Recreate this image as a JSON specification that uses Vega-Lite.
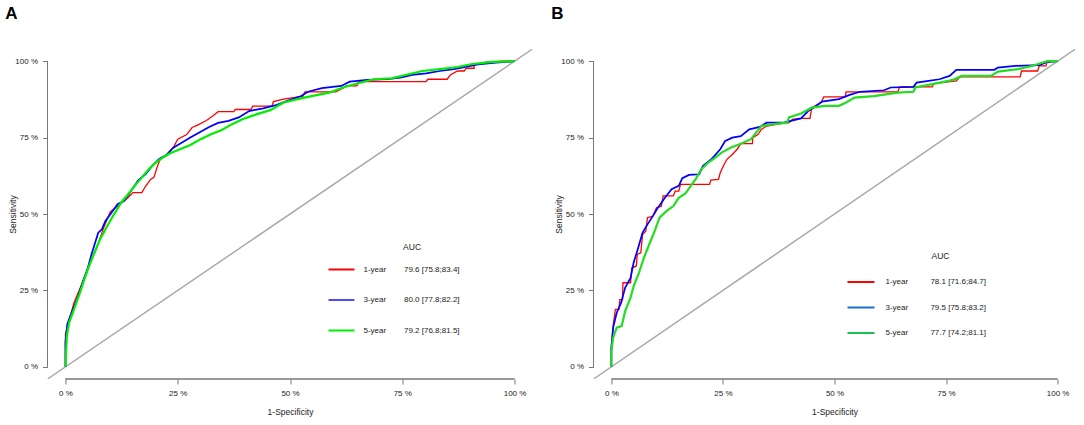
{
  "$schema": "https://vega.github.io/schema/vega-lite/v6.json",
  "background": "white",
  "padding": {"left": 4.5, "top": 5, "right": 2, "bottom": 2},
  "spacing": 18,
  "config": {
    "font": "Liberation Sans",
    "view": {"stroke": null},
    "axis": {
      "grid": false,
      "domain": false,
      "tickColor": "#777777",
      "tickSize": 5,
      "labelFontSize": 8,
      "labelColor": "#222222",
      "titleFontSize": 8.5,
      "titleFontWeight": "normal",
      "titleColor": "#222222"
    },
    "legend": {
      "orient": "none",
      "symbolType": "stroke",
      "symbolStrokeWidth": 2,
      "labelFontSize": 8,
      "labelColor": "#222222",
      "titleFontSize": 8.5,
      "titleFontWeight": "normal",
      "titleColor": "#222222"
    },
    "title": {"fontSize": 17, "fontWeight": "bold", "anchor": "start", "frame": "bounds", "offset": 26, "dx": -3}
  },
  "datasets": {
    "diag": [{"x": -4, "y": -4}, {"x": 104, "y": 104}],
    "keys": [
      {"series": "1-year", "fpr": 0, "tpr": 0},
      {"series": "3-year", "fpr": 0, "tpr": 0},
      {"series": "5-year", "fpr": 0, "tpr": 0}
    ],
    "a": [
      {"series": "1-year", "fpr": 0, "tpr": 0},
      {"series": "1-year", "fpr": 0, "tpr": 10.6},
      {"series": "1-year", "fpr": 0.8, "tpr": 15},
      {"series": "1-year", "fpr": 1.9, "tpr": 21},
      {"series": "1-year", "fpr": 3.9, "tpr": 28},
      {"series": "1-year", "fpr": 5.8, "tpr": 35},
      {"series": "1-year", "fpr": 7, "tpr": 39},
      {"series": "1-year", "fpr": 8.5, "tpr": 45.5},
      {"series": "1-year", "fpr": 10, "tpr": 50.8},
      {"series": "1-year", "fpr": 12, "tpr": 53},
      {"series": "1-year", "fpr": 13.9, "tpr": 55.3},
      {"series": "1-year", "fpr": 15, "tpr": 57},
      {"series": "1-year", "fpr": 17, "tpr": 57},
      {"series": "1-year", "fpr": 17.8, "tpr": 59},
      {"series": "1-year", "fpr": 19, "tpr": 61.4},
      {"series": "1-year", "fpr": 19.7, "tpr": 62},
      {"series": "1-year", "fpr": 20.5, "tpr": 65.7},
      {"series": "1-year", "fpr": 21.2, "tpr": 68.4},
      {"series": "1-year", "fpr": 22.4, "tpr": 69},
      {"series": "1-year", "fpr": 24, "tpr": 71.7},
      {"series": "1-year", "fpr": 25, "tpr": 74.5},
      {"series": "1-year", "fpr": 27, "tpr": 76},
      {"series": "1-year", "fpr": 28.2, "tpr": 78.3},
      {"series": "1-year", "fpr": 29.3, "tpr": 79},
      {"series": "1-year", "fpr": 31.3, "tpr": 80.5},
      {"series": "1-year", "fpr": 32.8, "tpr": 82.1},
      {"series": "1-year", "fpr": 34, "tpr": 83.5},
      {"series": "1-year", "fpr": 37.5, "tpr": 83.5},
      {"series": "1-year", "fpr": 37.8, "tpr": 84.2},
      {"series": "1-year", "fpr": 41.3, "tpr": 84.2},
      {"series": "1-year", "fpr": 41.7, "tpr": 85.3},
      {"series": "1-year", "fpr": 46, "tpr": 85.3},
      {"series": "1-year", "fpr": 46.3, "tpr": 86.8},
      {"series": "1-year", "fpr": 48.6, "tpr": 87.6},
      {"series": "1-year", "fpr": 52.9, "tpr": 88.6},
      {"series": "1-year", "fpr": 53.3, "tpr": 90},
      {"series": "1-year", "fpr": 60.2, "tpr": 90},
      {"series": "1-year", "fpr": 61.8, "tpr": 91.2},
      {"series": "1-year", "fpr": 62.5, "tpr": 91.9},
      {"series": "1-year", "fpr": 64.9, "tpr": 91.9},
      {"series": "1-year", "fpr": 65.3, "tpr": 93.3},
      {"series": "1-year", "fpr": 80.3, "tpr": 93.3},
      {"series": "1-year", "fpr": 80.7, "tpr": 94.1},
      {"series": "1-year", "fpr": 85, "tpr": 94.1},
      {"series": "1-year", "fpr": 85.7, "tpr": 95.5},
      {"series": "1-year", "fpr": 87.3, "tpr": 96.8},
      {"series": "1-year", "fpr": 88.8, "tpr": 96.8},
      {"series": "1-year", "fpr": 89.2, "tpr": 97.7},
      {"series": "1-year", "fpr": 91, "tpr": 97.7},
      {"series": "1-year", "fpr": 91, "tpr": 99},
      {"series": "1-year", "fpr": 93.4, "tpr": 99.6},
      {"series": "1-year", "fpr": 97.3, "tpr": 100},
      {"series": "1-year", "fpr": 100, "tpr": 100},
      {"series": "3-year", "fpr": 0, "tpr": 0},
      {"series": "3-year", "fpr": 0, "tpr": 8},
      {"series": "3-year", "fpr": 0.4, "tpr": 13.9},
      {"series": "3-year", "fpr": 1.5, "tpr": 18.2},
      {"series": "3-year", "fpr": 2.7, "tpr": 22.6},
      {"series": "3-year", "fpr": 3.9, "tpr": 28},
      {"series": "3-year", "fpr": 5, "tpr": 32.4},
      {"series": "3-year", "fpr": 5.8, "tpr": 36.8},
      {"series": "3-year", "fpr": 7.3, "tpr": 43.9},
      {"series": "3-year", "fpr": 8.1, "tpr": 45},
      {"series": "3-year", "fpr": 8.9, "tpr": 47.7},
      {"series": "3-year", "fpr": 10, "tpr": 49.9},
      {"series": "3-year", "fpr": 11.6, "tpr": 53.2},
      {"series": "3-year", "fpr": 13.1, "tpr": 54.3},
      {"series": "3-year", "fpr": 14.7, "tpr": 57.8},
      {"series": "3-year", "fpr": 16.2, "tpr": 61},
      {"series": "3-year", "fpr": 17.8, "tpr": 63},
      {"series": "3-year", "fpr": 19.3, "tpr": 65.7},
      {"series": "3-year", "fpr": 20.8, "tpr": 67.9},
      {"series": "3-year", "fpr": 22.4, "tpr": 69.2},
      {"series": "3-year", "fpr": 24, "tpr": 71.7},
      {"series": "3-year", "fpr": 25.5, "tpr": 73},
      {"series": "3-year", "fpr": 27.8, "tpr": 75},
      {"series": "3-year", "fpr": 29.7, "tpr": 76.6},
      {"series": "3-year", "fpr": 32, "tpr": 78.5},
      {"series": "3-year", "fpr": 34, "tpr": 79.8},
      {"series": "3-year", "fpr": 36.3, "tpr": 80.5},
      {"series": "3-year", "fpr": 38.6, "tpr": 81.6},
      {"series": "3-year", "fpr": 40.9, "tpr": 83.7},
      {"series": "3-year", "fpr": 44, "tpr": 84.6},
      {"series": "3-year", "fpr": 47.1, "tpr": 85.7},
      {"series": "3-year", "fpr": 49.4, "tpr": 87},
      {"series": "3-year", "fpr": 52.5, "tpr": 88.6},
      {"series": "3-year", "fpr": 54, "tpr": 90},
      {"series": "3-year", "fpr": 57.1, "tpr": 91.2},
      {"series": "3-year", "fpr": 61.4, "tpr": 91.9},
      {"series": "3-year", "fpr": 63.3, "tpr": 93.3},
      {"series": "3-year", "fpr": 67.2, "tpr": 93.9},
      {"series": "3-year", "fpr": 71.8, "tpr": 94.1},
      {"series": "3-year", "fpr": 74.9, "tpr": 94.7},
      {"series": "3-year", "fpr": 77.2, "tpr": 95.5},
      {"series": "3-year", "fpr": 80.3, "tpr": 96},
      {"series": "3-year", "fpr": 83.4, "tpr": 96.8},
      {"series": "3-year", "fpr": 86.5, "tpr": 97.4},
      {"series": "3-year", "fpr": 88.8, "tpr": 98.1},
      {"series": "3-year", "fpr": 91.9, "tpr": 99},
      {"series": "3-year", "fpr": 95.8, "tpr": 99.5},
      {"series": "3-year", "fpr": 100, "tpr": 100},
      {"series": "5-year", "fpr": 0, "tpr": 0},
      {"series": "5-year", "fpr": 0.3, "tpr": 10},
      {"series": "5-year", "fpr": 0.8, "tpr": 14.4},
      {"series": "5-year", "fpr": 1.9, "tpr": 18.8},
      {"series": "5-year", "fpr": 3.1, "tpr": 23.7},
      {"series": "5-year", "fpr": 4.2, "tpr": 28.6},
      {"series": "5-year", "fpr": 5.4, "tpr": 33.5},
      {"series": "5-year", "fpr": 6.6, "tpr": 37.9},
      {"series": "5-year", "fpr": 7.7, "tpr": 41.7},
      {"series": "5-year", "fpr": 9.3, "tpr": 46.1},
      {"series": "5-year", "fpr": 10.8, "tpr": 49.9},
      {"series": "5-year", "fpr": 12.4, "tpr": 53.7},
      {"series": "5-year", "fpr": 13.9, "tpr": 56.4},
      {"series": "5-year", "fpr": 15.4, "tpr": 59.2},
      {"series": "5-year", "fpr": 17, "tpr": 61.9},
      {"series": "5-year", "fpr": 18.5, "tpr": 64.6},
      {"series": "5-year", "fpr": 20.1, "tpr": 66.8},
      {"series": "5-year", "fpr": 21.6, "tpr": 68.4},
      {"series": "5-year", "fpr": 23.2, "tpr": 69.8},
      {"series": "5-year", "fpr": 25.5, "tpr": 71.2},
      {"series": "5-year", "fpr": 27.8, "tpr": 72.6},
      {"series": "5-year", "fpr": 30.1, "tpr": 74.5},
      {"series": "5-year", "fpr": 32.4, "tpr": 76.1},
      {"series": "5-year", "fpr": 34.7, "tpr": 77.4},
      {"series": "5-year", "fpr": 37.1, "tpr": 79.4},
      {"series": "5-year", "fpr": 39.4, "tpr": 81},
      {"series": "5-year", "fpr": 42.5, "tpr": 82.6},
      {"series": "5-year", "fpr": 45.6, "tpr": 84},
      {"series": "5-year", "fpr": 48.6, "tpr": 86.5},
      {"series": "5-year", "fpr": 51.7, "tpr": 87.6},
      {"series": "5-year", "fpr": 54.8, "tpr": 88.6},
      {"series": "5-year", "fpr": 58.7, "tpr": 89.7},
      {"series": "5-year", "fpr": 61.8, "tpr": 91.4},
      {"series": "5-year", "fpr": 64.9, "tpr": 92.7},
      {"series": "5-year", "fpr": 68.7, "tpr": 94.1},
      {"series": "5-year", "fpr": 72.6, "tpr": 94.4},
      {"series": "5-year", "fpr": 75.7, "tpr": 95.5},
      {"series": "5-year", "fpr": 79.5, "tpr": 96.8},
      {"series": "5-year", "fpr": 83.4, "tpr": 97.4},
      {"series": "5-year", "fpr": 87.3, "tpr": 98.1},
      {"series": "5-year", "fpr": 90.3, "tpr": 99},
      {"series": "5-year", "fpr": 95, "tpr": 99.8},
      {"series": "5-year", "fpr": 100, "tpr": 100}
    ],
    "b": [
      {"series": "1-year", "fpr": 0, "tpr": 0},
      {"series": "1-year", "fpr": 0, "tpr": 6.2},
      {"series": "1-year", "fpr": 0.4, "tpr": 13.3},
      {"series": "1-year", "fpr": 0.9, "tpr": 18.8},
      {"series": "1-year", "fpr": 1.7, "tpr": 18.8},
      {"series": "1-year", "fpr": 1.9, "tpr": 22},
      {"series": "1-year", "fpr": 2.5, "tpr": 22},
      {"series": "1-year", "fpr": 2.6, "tpr": 27.5},
      {"series": "1-year", "fpr": 4.3, "tpr": 27.5},
      {"series": "1-year", "fpr": 4.6, "tpr": 32.4},
      {"series": "1-year", "fpr": 5.6, "tpr": 33},
      {"series": "1-year", "fpr": 5.8, "tpr": 36.8},
      {"series": "1-year", "fpr": 6.6, "tpr": 37.3},
      {"series": "1-year", "fpr": 7, "tpr": 43.3},
      {"series": "1-year", "fpr": 7.7, "tpr": 44.4},
      {"series": "1-year", "fpr": 8.1, "tpr": 48.8},
      {"series": "1-year", "fpr": 9.3, "tpr": 49.3},
      {"series": "1-year", "fpr": 10.1, "tpr": 52},
      {"series": "1-year", "fpr": 11.2, "tpr": 52.5},
      {"series": "1-year", "fpr": 11.6, "tpr": 55.9},
      {"series": "1-year", "fpr": 13.9, "tpr": 55.9},
      {"series": "1-year", "fpr": 14.3, "tpr": 57.5},
      {"series": "1-year", "fpr": 15.1, "tpr": 57.5},
      {"series": "1-year", "fpr": 15.5, "tpr": 59.7},
      {"series": "1-year", "fpr": 22, "tpr": 59.7},
      {"series": "1-year", "fpr": 22.3, "tpr": 61.1},
      {"series": "1-year", "fpr": 24, "tpr": 61.3},
      {"series": "1-year", "fpr": 24.4, "tpr": 63.5},
      {"series": "1-year", "fpr": 25.1, "tpr": 65.7},
      {"series": "1-year", "fpr": 25.9, "tpr": 67.9},
      {"series": "1-year", "fpr": 27.1, "tpr": 69.5},
      {"series": "1-year", "fpr": 28.2, "tpr": 71.2},
      {"series": "1-year", "fpr": 29, "tpr": 73},
      {"series": "1-year", "fpr": 31.6, "tpr": 73},
      {"series": "1-year", "fpr": 31.7, "tpr": 75},
      {"series": "1-year", "fpr": 32.9, "tpr": 76.1},
      {"series": "1-year", "fpr": 33.6, "tpr": 77.7},
      {"series": "1-year", "fpr": 34.8, "tpr": 78.8},
      {"series": "1-year", "fpr": 37.9, "tpr": 79.6},
      {"series": "1-year", "fpr": 39.8, "tpr": 79.9},
      {"series": "1-year", "fpr": 40.6, "tpr": 81},
      {"series": "1-year", "fpr": 42.2, "tpr": 81.3},
      {"series": "1-year", "fpr": 44.5, "tpr": 81.3},
      {"series": "1-year", "fpr": 44.9, "tpr": 84.8},
      {"series": "1-year", "fpr": 47, "tpr": 86.5},
      {"series": "1-year", "fpr": 47.6, "tpr": 88.3},
      {"series": "1-year", "fpr": 52.4, "tpr": 88.3},
      {"series": "1-year", "fpr": 52.6, "tpr": 90},
      {"series": "1-year", "fpr": 64.2, "tpr": 90},
      {"series": "1-year", "fpr": 64.6, "tpr": 91.6},
      {"series": "1-year", "fpr": 71.9, "tpr": 91.6},
      {"series": "1-year", "fpr": 72.3, "tpr": 92.7},
      {"series": "1-year", "fpr": 77.3, "tpr": 93.6},
      {"series": "1-year", "fpr": 78.1, "tpr": 94.9},
      {"series": "1-year", "fpr": 91.6, "tpr": 94.9},
      {"series": "1-year", "fpr": 91.9, "tpr": 96.8},
      {"series": "1-year", "fpr": 95.5, "tpr": 96.8},
      {"series": "1-year", "fpr": 95.9, "tpr": 98.5},
      {"series": "1-year", "fpr": 97.4, "tpr": 98.5},
      {"series": "1-year", "fpr": 97.6, "tpr": 100},
      {"series": "1-year", "fpr": 100, "tpr": 100},
      {"series": "3-year", "fpr": 0, "tpr": 0},
      {"series": "3-year", "fpr": 0, "tpr": 6.2},
      {"series": "3-year", "fpr": 0.4, "tpr": 12.8},
      {"series": "3-year", "fpr": 1.2, "tpr": 17.7},
      {"series": "3-year", "fpr": 2.2, "tpr": 21},
      {"series": "3-year", "fpr": 3.1, "tpr": 25.9},
      {"series": "3-year", "fpr": 4.3, "tpr": 29.1},
      {"series": "3-year", "fpr": 5, "tpr": 34.1},
      {"series": "3-year", "fpr": 5.8, "tpr": 37.9},
      {"series": "3-year", "fpr": 7, "tpr": 43.9},
      {"series": "3-year", "fpr": 8.1, "tpr": 46.6},
      {"series": "3-year", "fpr": 9.3, "tpr": 49.3},
      {"series": "3-year", "fpr": 10.4, "tpr": 52},
      {"series": "3-year", "fpr": 12, "tpr": 55.3},
      {"series": "3-year", "fpr": 13.5, "tpr": 58.1},
      {"series": "3-year", "fpr": 15.1, "tpr": 59.2},
      {"series": "3-year", "fpr": 15.9, "tpr": 61.7},
      {"series": "3-year", "fpr": 17.4, "tpr": 62.8},
      {"series": "3-year", "fpr": 19.7, "tpr": 63},
      {"series": "3-year", "fpr": 20.5, "tpr": 65.7},
      {"series": "3-year", "fpr": 22.4, "tpr": 67.9},
      {"series": "3-year", "fpr": 24.4, "tpr": 71.2},
      {"series": "3-year", "fpr": 25.5, "tpr": 73.9},
      {"series": "3-year", "fpr": 27.1, "tpr": 75},
      {"series": "3-year", "fpr": 29, "tpr": 75.5},
      {"series": "3-year", "fpr": 30.9, "tpr": 77.7},
      {"series": "3-year", "fpr": 33.3, "tpr": 78.5},
      {"series": "3-year", "fpr": 34.8, "tpr": 79.9},
      {"series": "3-year", "fpr": 38.7, "tpr": 79.9},
      {"series": "3-year", "fpr": 40.2, "tpr": 80.5},
      {"series": "3-year", "fpr": 42.5, "tpr": 81.3},
      {"series": "3-year", "fpr": 44.1, "tpr": 83.7},
      {"series": "3-year", "fpr": 45.6, "tpr": 85},
      {"series": "3-year", "fpr": 47.2, "tpr": 86.8},
      {"series": "3-year", "fpr": 51, "tpr": 87.6},
      {"series": "3-year", "fpr": 53.4, "tpr": 89},
      {"series": "3-year", "fpr": 55.7, "tpr": 90},
      {"series": "3-year", "fpr": 61.1, "tpr": 90.5},
      {"series": "3-year", "fpr": 62.6, "tpr": 91.4},
      {"series": "3-year", "fpr": 67.7, "tpr": 91.6},
      {"series": "3-year", "fpr": 68.4, "tpr": 93},
      {"series": "3-year", "fpr": 71.1, "tpr": 93.6},
      {"series": "3-year", "fpr": 73.5, "tpr": 94.1},
      {"series": "3-year", "fpr": 75.8, "tpr": 95.2},
      {"series": "3-year", "fpr": 77.3, "tpr": 97.2},
      {"series": "3-year", "fpr": 85.8, "tpr": 97.2},
      {"series": "3-year", "fpr": 86.6, "tpr": 97.9},
      {"series": "3-year", "fpr": 90.5, "tpr": 98.5},
      {"series": "3-year", "fpr": 95.9, "tpr": 98.7},
      {"series": "3-year", "fpr": 97.4, "tpr": 99.6},
      {"series": "3-year", "fpr": 100, "tpr": 100},
      {"series": "5-year", "fpr": 0, "tpr": 0},
      {"series": "5-year", "fpr": 0, "tpr": 5},
      {"series": "5-year", "fpr": 0.4, "tpr": 9.5},
      {"series": "5-year", "fpr": 1.2, "tpr": 12.8},
      {"series": "5-year", "fpr": 2.3, "tpr": 13.3},
      {"series": "5-year", "fpr": 3.1, "tpr": 18.2},
      {"series": "5-year", "fpr": 4.3, "tpr": 22.6},
      {"series": "5-year", "fpr": 5, "tpr": 26.4},
      {"series": "5-year", "fpr": 6.2, "tpr": 30.8},
      {"series": "5-year", "fpr": 7.3, "tpr": 35.7},
      {"series": "5-year", "fpr": 8.5, "tpr": 40.1},
      {"series": "5-year", "fpr": 9.7, "tpr": 44.4},
      {"series": "5-year", "fpr": 10.8, "tpr": 48.8},
      {"series": "5-year", "fpr": 12.4, "tpr": 51},
      {"series": "5-year", "fpr": 13.9, "tpr": 52.6},
      {"series": "5-year", "fpr": 15.1, "tpr": 55.3},
      {"series": "5-year", "fpr": 16.6, "tpr": 56.7},
      {"series": "5-year", "fpr": 17.8, "tpr": 59.2},
      {"series": "5-year", "fpr": 18.9, "tpr": 61.4},
      {"series": "5-year", "fpr": 20.1, "tpr": 64.6},
      {"series": "5-year", "fpr": 21.7, "tpr": 66.8},
      {"series": "5-year", "fpr": 23.2, "tpr": 68.4},
      {"series": "5-year", "fpr": 24.7, "tpr": 70.1},
      {"series": "5-year", "fpr": 26.7, "tpr": 71.7},
      {"series": "5-year", "fpr": 29, "tpr": 73},
      {"series": "5-year", "fpr": 31.3, "tpr": 74.5},
      {"series": "5-year", "fpr": 33.6, "tpr": 78.8},
      {"series": "5-year", "fpr": 36.3, "tpr": 79.4},
      {"series": "5-year", "fpr": 39.4, "tpr": 79.9},
      {"series": "5-year", "fpr": 39.8, "tpr": 81.6},
      {"series": "5-year", "fpr": 42.5, "tpr": 82.9},
      {"series": "5-year", "fpr": 44.9, "tpr": 84.8},
      {"series": "5-year", "fpr": 47.9, "tpr": 85.4},
      {"series": "5-year", "fpr": 51, "tpr": 85.4},
      {"series": "5-year", "fpr": 52.6, "tpr": 86.5},
      {"series": "5-year", "fpr": 54.5, "tpr": 88.1},
      {"series": "5-year", "fpr": 58.8, "tpr": 88.6},
      {"series": "5-year", "fpr": 64.2, "tpr": 89.7},
      {"series": "5-year", "fpr": 67.7, "tpr": 90},
      {"series": "5-year", "fpr": 68.1, "tpr": 91.4},
      {"series": "5-year", "fpr": 71.9, "tpr": 92.5},
      {"series": "5-year", "fpr": 76.6, "tpr": 93.9},
      {"series": "5-year", "fpr": 78.5, "tpr": 95.2},
      {"series": "5-year", "fpr": 85.1, "tpr": 95.2},
      {"series": "5-year", "fpr": 86.6, "tpr": 96.6},
      {"series": "5-year", "fpr": 91.2, "tpr": 97.4},
      {"series": "5-year", "fpr": 94.4, "tpr": 98.5},
      {"series": "5-year", "fpr": 96.7, "tpr": 99.6},
      {"series": "5-year", "fpr": 97.8, "tpr": 100},
      {"series": "5-year", "fpr": 100, "tpr": 100}
    ]
  },
  "hconcat": [
    {
      "title": "A",
      "width": 485,
      "height": 330,
      "resolve": {"scale": {"color": "independent", "strokeWidth": "independent"}},
      "encoding": {
        "x": {
          "type": "quantitative",
          "scale": {"domain": [-4, 104], "nice": false, "zero": false},
          "axis": {"values": [0, 25, 50, 75, 100], "labelExpr": "datum.value + ' %'", "labelPadding": 5, "titlePadding": 10, "title": "1-Specificity"}
        },
        "y": {
          "type": "quantitative",
          "scale": {"domain": [-4, 104], "nice": false, "zero": false},
          "axis": {"values": [0, 25, 50, 75, 100], "labelExpr": "datum.value + ' %'", "labelPadding": 5, "titlePadding": -2.5, "title": "Sensitivity"}
        }
      },
      "layer": [
        {
          "data": {"name": "diag"},
          "mark": {"type": "line", "color": "#aaaaaa", "strokeWidth": 1.5, "clip": true},
          "encoding": {"x": {"field": "x", "type": "quantitative"}, "y": {"field": "y", "type": "quantitative"}}
        },
        {
          "data": {"name": "diag"},
          "mark": {"type": "rule", "color": "#777777", "strokeWidth": 1},
          "encoding": {"x": {"datum": 0}, "x2": {"datum": 100}, "y": {"datum": -4}}
        },
        {
          "data": {"name": "diag"},
          "mark": {"type": "rule", "color": "#777777", "strokeWidth": 1},
          "encoding": {"y": {"datum": 0}, "y2": {"datum": 100}, "x": {"datum": -4}}
        },
        {
          "data": {"name": "a"},
          "mark": {"type": "line", "clip": true},
          "encoding": {
            "x": {"field": "fpr", "type": "quantitative"},
            "y": {"field": "tpr", "type": "quantitative"},
            "order": {"value": null},
            "color": {"field": "series", "type": "nominal", "legend": null,
              "scale": {"domain": ["1-year", "3-year", "5-year"], "range": ["#ff0000", "#0000ff", "#00ee00"]}},
            "strokeWidth": {"field": "series", "type": "nominal", "legend": null,
              "scale": {"domain": ["1-year", "3-year", "5-year"], "range": [1.3, 2.2, 2]}}
          }
        },
        {
          "data": {"name": "keys"},
          "mark": {"type": "line"},
          "encoding": {
            "x": {"field": "fpr", "type": "quantitative"},
            "y": {"field": "tpr", "type": "quantitative"},
            "color": {"field": "series", "type": "nominal",
              "scale": {"domain": ["1-year", "3-year", "5-year"], "range": ["#ff0000", "#4d4dff", "#00ee00"]},
              "legend": {
                "title": "\u200b\u00a0\u00a0\u00a0\u00a0\u00a0\u00a0\u00a0\u00a0\u00a0\u00a0\u00a0\u00a0\u00a0\u00a0\u00a0\u00a0\u00a0\u00a0\u00a0\u00a0\u00a0\u00a0\u00a0\u00a0\u00a0\u00a0\u00a0\u00a0\u00a0\u00a0\u00a0\u00a0AUC",
                "legendX": 280, "legendY": 194,
                "symbolSize": 676, "labelOffset": 8, "rowPadding": 12.5, "titlePadding": 4,
                "labelExpr": "datum.label + '\u00a0\u00a0\u00a0\u00a0\u00a0\u00a0\u00a0\u00a0' + (datum.label == '1-year' ? '79.6 [75.8;83.4]' : datum.label == '3-year' ? '80.0 [77.8;82.2]' : '79.2 [76.8;81.5]')"
              }
            }
          }
        }
      ]
    },
    {
      "title": "B",
      "width": 482,
      "height": 330,
      "resolve": {"scale": {"color": "independent", "strokeWidth": "independent"}},
      "encoding": {
        "x": {
          "type": "quantitative",
          "scale": {"domain": [-4, 104], "nice": false, "zero": false},
          "axis": {"values": [0, 25, 50, 75, 100], "labelExpr": "datum.value + ' %'", "labelPadding": 5, "titlePadding": 10, "title": "1-Specificity"}
        },
        "y": {
          "type": "quantitative",
          "scale": {"domain": [-4, 104], "nice": false, "zero": false},
          "axis": {"values": [0, 25, 50, 75, 100], "labelExpr": "datum.value + ' %'", "labelPadding": 5, "titlePadding": -2.5, "title": "Sensitivity"}
        }
      },
      "layer": [
        {
          "data": {"name": "diag"},
          "mark": {"type": "line", "color": "#aaaaaa", "strokeWidth": 1.5, "clip": true},
          "encoding": {"x": {"field": "x", "type": "quantitative"}, "y": {"field": "y", "type": "quantitative"}}
        },
        {
          "data": {"name": "diag"},
          "mark": {"type": "rule", "color": "#777777", "strokeWidth": 1},
          "encoding": {"x": {"datum": 0}, "x2": {"datum": 100}, "y": {"datum": -4}}
        },
        {
          "data": {"name": "diag"},
          "mark": {"type": "rule", "color": "#777777", "strokeWidth": 1},
          "encoding": {"y": {"datum": 0}, "y2": {"datum": 100}, "x": {"datum": -4}}
        },
        {
          "data": {"name": "b"},
          "mark": {"type": "line", "clip": true},
          "encoding": {
            "x": {"field": "fpr", "type": "quantitative"},
            "y": {"field": "tpr", "type": "quantitative"},
            "order": {"value": null},
            "color": {"field": "series", "type": "nominal", "legend": null,
              "scale": {"domain": ["1-year", "3-year", "5-year"], "range": ["#ff0000", "#0000ff", "#22dd22"]}},
            "strokeWidth": {"field": "series", "type": "nominal", "legend": null,
              "scale": {"domain": ["1-year", "3-year", "5-year"], "range": [1.3, 2.2, 2]}}
          }
        },
        {
          "data": {"name": "keys"},
          "mark": {"type": "line"},
          "encoding": {
            "x": {"field": "fpr", "type": "quantitative"},
            "y": {"field": "tpr", "type": "quantitative"},
            "color": {"field": "series", "type": "nominal",
              "scale": {"domain": ["1-year", "3-year", "5-year"], "range": ["#ff0000", "#1a6fcf", "#1fbf4f"]},
              "legend": {
                "title": "\u200b\u00a0\u00a0\u00a0\u00a0\u00a0\u00a0\u00a0\u00a0\u00a0\u00a0\u00a0\u00a0\u00a0\u00a0\u00a0\u00a0\u00a0\u00a0\u00a0\u00a0\u00a0\u00a0\u00a0\u00a0\u00a0\u00a0\u00a0\u00a0\u00a0\u00a0\u00a0\u00a0\u00a0\u00a0\u00a0\u00a0AUC",
                "legendX": 253, "legendY": 203,
                "symbolSize": 729, "labelOffset": 10, "rowPadding": 6.5, "titlePadding": 7,
                "labelExpr": "datum.label + '\u00a0\u00a0\u00a0\u00a0\u00a0\u00a0\u00a0\u00a0\u00a0\u00a0' + (datum.label == '1-year' ? '78.1 [71.6;84.7]' : datum.label == '3-year' ? '79.5 [75.8;83.2]' : '77.7 [74.2;81.1]')"
              }
            }
          }
        }
      ]
    }
  ]
}
